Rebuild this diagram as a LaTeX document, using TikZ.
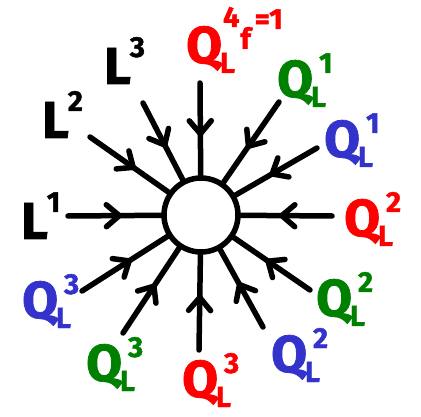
\documentclass[tikz,border=0pt]{standalone}
\usepackage{fontspec}
\setmainfont{Fira Sans}[BoldFeatures={FakeBold=1.5}]
\usetikzlibrary{arrows.meta,decorations.markings}
\definecolor{qred}{RGB}{255,0,0}
\definecolor{qgreen}{RGB}{0,128,0}
\definecolor{qblue}{RGB}{51,51,204}
\newcommand{\bigsz}{\fontsize{52}{52}\selectfont}
\newcommand{\smsz}{\fontsize{29}{29}\selectfont}
\newcommand{\QL}[1]{{\bigsz Q}\kern-2pt\rlap{\raisebox{-10pt}{\smsz L}}\kern8pt\raisebox{24pt}{\smsz #1}}
\newcommand{\LL}[1]{{\bigsz L}\kern-1pt\raisebox{27pt}{\smsz #1}}
\begin{document}
\begin{tikzpicture}[x=1pt,y=-1pt,
  spoke/.style={line width=5.5pt, line cap=round, postaction={decorate},
    decoration={markings, mark=at position 0.58 with {\arrow{Straight Barb[length=13pt,width=22pt,line width=5.5pt,round]}}}},
  lab/.style={anchor=base west, inner sep=0pt, font=\bfseries},
  hub/.style={draw, circle, line width=5.5pt, minimum size=74pt, inner sep=0pt, fill=white}]
\useasboundingbox (0,0) rectangle (421,417);
\node[hub] (c) at (201,215) {};
% outer ends of spokes
\coordinate (o1) at (200,83);
\coordinate (o2) at (279,102);
\coordinate (o3) at (317,148);
\coordinate (o4) at (332,216);
\coordinate (o5) at (310,290);
\coordinate (o6) at (263,327);
\coordinate (o7) at (199,350);
\coordinate (o8) at (123,333);
\coordinate (o9) at (82,291);
\coordinate (o10) at (68,216);
\coordinate (o11) at (90,137);
\coordinate (o12) at (143,103);
\foreach \i in {1,...,12} {\draw[spoke] (o\i) -- (c);}
% labels
\node[lab, text=qred] (t1) at (186,63) {{\bigsz Q}\kern-2pt\rlap{\raisebox{-10pt}{\smsz L}}\kern3pt\raisebox{36pt}{\smsz 4}\kern1pt\raisebox{14pt}{\smsz f}\kern4pt\raisebox{34pt}{\smsz =1}};
\node[lab, text=qgreen] (t2) at (277,97) {\QL{1}};
\node[lab, text=qblue] (t3) at (324,157) {\QL{1}};
\node[lab, text=qred] (t4) at (344,236) {\QL{2}};
\node[lab, text=qgreen] (t5) at (316,316) {\QL{2}};
\node[lab, text=qblue] (t6) at (271,372) {\QL{2}};
\node[lab, text=qred] (t7) at (182,397) {\QL{3}};
\node[lab, text=qgreen] (t8) at (86,381) {\QL{3}};
\node[lab, text=qblue] (t9) at (22,318) {\QL{3}};
\node[lab] (t10) at (21,239) {\LL{1}};
\node[lab] (t11) at (42,138) {\LL{2}};
\node[lab] (t12) at (104,84) {\LL{3}};
\end{tikzpicture}
\end{document}
